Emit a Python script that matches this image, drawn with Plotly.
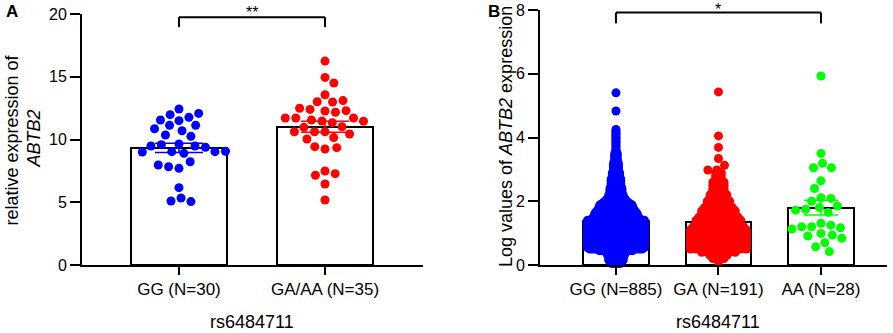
import numpy as np
import plotly.graph_objects as go

W, H = 893, 333
FONT = "Liberation Sans, Arial, sans-serif"

# ---------------- Panel A data ----------------
a_categories = ["GG (N=30)", "GA/AA (N=35)"]
a_gg = [12.43, 11.5, 11.77, 11.13, 11.55, 11.13, 11.98, 12.08, 10.7, 10.86,
        10.36, 10.25, 9.64, 9.59, 9.48, 9.38, 9.48, 9.03, 9.03, 8.9,
        9.0, 9.06, 7.7, 7.83, 8.23, 7.97, 6.16, 5.34, 5.1, 5.05]
a_gaaa = [16.25, 14.95, 14.5, 13.57, 13.01, 12.99, 13.1, 12.27, 12.4, 12.17,
          12.3, 12.49, 11.47, 11.34, 11.55, 11.02, 11.71, 11.71, 11.45, 11.71,
          10.62, 10.62, 10.97, 10.15, 10.04, 10.44, 10.62, 9.24, 9.43, 9.35,
          7.49, 7.28, 7.15, 6.45, 5.18]
a_means = [9.33, 11.02]
a_sems = [0.37, 0.44]
a_yticks = [0, 5, 10, 15, 20]

# ---------------- Panel B data ----------------
b_categories = ["GG (N=885)", "GA (N=191)", "AA (N=28)"]
b_gg_levels = [0.05, 0.10, 0.15, 0.20, 0.25, 0.30, 0.35, 0.40, 0.45, 0.50,
               0.55, 0.60, 0.65, 0.70, 0.75, 0.80, 0.85, 0.90, 0.95, 1.00,
               1.05, 1.10, 1.15, 1.20, 1.25, 1.30, 1.35, 1.40, 1.45, 1.50,
               1.55, 1.60, 1.65, 1.70, 1.75, 1.80, 1.85, 1.90, 1.95, 2.00,
               2.05, 2.10, 2.15, 2.20, 2.25, 2.30, 2.35, 2.40, 2.45, 2.50,
               2.55, 2.60, 2.65, 2.70, 2.75, 2.80, 2.85, 2.90, 2.95, 3.00,
               3.05, 3.10, 3.15, 3.20, 3.25, 3.30, 3.35, 3.40, 3.45, 3.50,
               3.55, 3.60, 3.65, 3.70, 3.75, 3.80, 3.85, 3.90, 3.95, 4.00,
               4.05, 4.10, 4.15, 4.20, 4.25]
b_gg_counts = [5, 6, 7, 7, 7, 8, 8, 9, 15, 23,
               25, 25, 25, 25, 25, 25, 25, 25, 25, 25,
               25, 25, 25, 25, 25, 25, 25, 25, 21, 20,
               19, 19, 18, 17, 16, 15, 15, 14, 12, 10,
               9, 8, 7, 7, 6, 6, 6, 6, 5, 5,
               5, 5, 5, 5, 4, 4, 4, 4, 3, 3,
               3, 3, 3, 3, 2, 2, 2, 2, 2, 2,
               1, 1, 1, 1, 1, 1, 1, 1, 1, 1,
               1, 1, 1, 1, 1]
b_gg_extra = [4.83, 5.40]
b_ga_levels = [0.1, 0.2, 0.3, 0.4, 0.5, 0.6, 0.7, 0.8, 0.9, 1.0,
               1.1, 1.2, 1.3, 1.4, 1.5, 1.6, 1.7, 1.8, 1.9, 2.0,
               2.1, 2.2, 2.3, 2.4, 2.5, 2.6, 2.7, 2.8, 2.9]
b_ga_counts = [1, 3, 4, 7, 11, 11, 11, 11, 11, 11,
               11, 10, 9, 9, 8, 7, 7, 6, 5, 5,
               4, 4, 3, 3, 3, 3, 2, 2, 2]
b_ga_extra = [5.43, 4.05, 3.69, 3.34, 3.13, 2.98, 2.98]
b_aa = [5.93, 3.50, 3.19, 3.05, 3.05, 2.64, 2.40, 2.11, 2.09, 2.00,
        1.85, 1.80, 1.75, 1.72, 1.65, 1.31, 1.25, 1.20, 1.20, 1.17,
        1.13, 0.99, 0.94, 0.91, 0.84, 0.70, 0.57, 0.42]
b_means = [1.38, 1.35, 1.80]
b_sems = [0.03, 0.05, 0.235]
b_yticks = [0, 2, 4, 6, 8]

# ---------------- layout geometry ----------------
xA_dom = [82 / W, 423 / W]
yA_dom = [68 / H, 319 / H]
xB_dom = [540 / W, 887 / W]
yB_dom = [68 / H, 323 / H]
xA_rng = [-0.664, 1.671]
yA_rng = [0, 20]
xB_rng = [-0.741, 2.644]
yB_rng = [0, 8]


def ppu(dom, rng, total):
    return (dom[1] - dom[0]) * total / (rng[1] - rng[0])


def to_paper(v, dom, rng):
    return dom[0] + (v - rng[0]) / (rng[1] - rng[0]) * (dom[1] - dom[0])


pxA, pyA = ppu(xA_dom, xA_rng, W), ppu(yA_dom, yA_rng, H)
pxB, pyB = ppu(xB_dom, xB_rng, W), ppu(yB_dom, yB_rng, H)


def swarm(vals, ppx, ppy, d):
    """Greedy beeswarm layout: offsets (data units) so that markers don't overlap."""
    placed, offs = [], []
    for v in vals:
        y = v * ppy
        cands = [0.0]
        for xo, yo in placed:
            dy = y - yo
            if abs(dy) < d:
                dx = np.sqrt(d * d - dy * dy)
                cands += [xo + dx, xo - dx]
        left = sum(1 for xo, _ in placed if xo < -0.5)
        right = sum(1 for xo, _ in placed if xo > 0.5)
        pref = 1 if right <= left else -1
        cands.sort(key=lambda c: (round(abs(c), 1), -pref * np.sign(c)))
        chosen = 0.0
        for c in cands:
            if all((c - xo) ** 2 + (y - yo) ** 2 >= d * d - 1e-6 for xo, yo in placed):
                chosen = c
                break
        placed.append((chosen, y))
        offs.append(chosen / ppx)
    return offs


def rows(levels, counts, ppx, max_span_px):
    s = max_span_px / (max(counts) - 1)
    xs, ys = [], []
    for lv, n in zip(levels, counts):
        for i in range(n):
            xs.append((i - (n - 1) / 2) * s / ppx)
            ys.append(lv)
    return xs, ys


BLUE, RED, GREEN = "#0000ff", "#ff0000", "#00ff00"
MS = 9

fig = go.Figure()

# ---- Panel A ----
fig.add_trace(go.Bar(x=[0, 1], y=a_means, width=0.66, marker=dict(color="white", line=dict(color="black", width=2)),
                     xaxis="x", yaxis="y", showlegend=False))
for i, (vals, col) in enumerate([(a_gg, BLUE), (a_gaaa, RED)]):
    offs = swarm(vals, pxA, pyA, 10.5)
    fig.add_trace(go.Scatter(x=[i + o for o in offs], y=vals, mode="markers",
                             marker=dict(size=MS, color=col, line=dict(width=0)),
                             xaxis="x", yaxis="y", showlegend=False, cliponaxis=False))
    fig.add_trace(go.Scatter(x=[i], y=[a_means[i]], mode="markers", marker=dict(size=1, opacity=0),
                             error_y=dict(type="data", array=[a_sems[i]], color=col, thickness=1.5, width=24),
                             xaxis="x", yaxis="y", showlegend=False))

# ---- Panel B ----
fig.add_trace(go.Bar(x=[0, 1, 2], y=b_means, width=0.64, marker=dict(color="white", line=dict(color="black", width=2)),
                     xaxis="x2", yaxis="y2", showlegend=False))

gx, gy = rows(b_gg_levels, b_gg_counts, pxB, 57)
gx += [0.0] * len(b_gg_extra)
gy += b_gg_extra
rx, ry = rows(b_ga_levels, b_ga_counts, pxB, 56)
eo = swarm(b_ga_extra, pxB, pyB, 9)
rx += eo
ry += b_ga_extra
ao = swarm(b_aa, pxB, pyB, 10)
groups_b = [(gx, gy, BLUE), (rx, ry, RED), (ao, b_aa, GREEN)]
for i, (xs, ys, col) in enumerate(groups_b):
    fig.add_trace(go.Scatter(x=[i + o for o in xs], y=ys, mode="markers",
                             marker=dict(size=MS, color=col, line=dict(width=0)),
                             xaxis="x2", yaxis="y2", showlegend=False, cliponaxis=False))
for i, col in enumerate([BLUE, RED, GREEN]):
    fig.add_trace(go.Scatter(x=[i], y=[b_means[i]], mode="markers", marker=dict(size=1, opacity=0),
                             error_y=dict(type="data", array=[b_sems[i]], color=col, thickness=1.5, width=17),
                             xaxis="x2", yaxis="y2", showlegend=False))

axis_common = dict(showline=True, linecolor="black", linewidth=2, ticks="outside", tickcolor="black",
                   tickwidth=2, showgrid=False, zeroline=False, fixedrange=True, automargin=False)
fig.update_layout(
    template="none",
    width=W, height=H, margin=dict(l=0, r=0, t=0, b=0, pad=0, autoexpand=False),
    paper_bgcolor="white", plot_bgcolor="white",
    font=dict(family=FONT, color="black"),
    bargap=0, showlegend=False,
    xaxis=dict(domain=xA_dom, range=xA_rng, tickvals=[0, 1], ticktext=a_categories, ticklen=8,
               tickfont=dict(size=17), anchor="y", **axis_common),
    yaxis=dict(domain=yA_dom, range=yA_rng, tickvals=a_yticks, ticklen=10, tickfont=dict(size=16),
               anchor="x", **axis_common),
    xaxis2=dict(domain=xB_dom, range=xB_rng, tickvals=[0, 1, 2], ticktext=b_categories, ticklen=8,
                tickfont=dict(size=17), anchor="y2", **axis_common),
    yaxis2=dict(domain=yB_dom, range=yB_rng, tickvals=b_yticks, ticklen=10, tickfont=dict(size=16),
                anchor="x2", **axis_common),
)

# brackets
def bracket(x0, x1, ytop, ybot, xdom, xrng, ydom, yrng):
    px0, px1 = to_paper(x0, xdom, xrng), to_paper(x1, xdom, xrng)
    pt, pb = to_paper(ytop, ydom, yrng), to_paper(ybot, ydom, yrng)
    for (a, b, c, d) in [(px0, pb, px0, pt), (px0, pt, px1, pt), (px1, pt, px1, pb)]:
        fig.add_shape(type="line", xref="paper", yref="paper", x0=a, y0=b, x1=c, y1=d,
                      line=dict(color="black", width=2))
    return (px0 + px1) / 2, pt

mA, tA = bracket(0, 1, 19.75, 18.95, xA_dom, xA_rng, yA_dom, yA_rng)
mB, tB = bracket(0, 2, 7.92, 7.58, xB_dom, xB_rng, yB_dom, yB_rng)

base = dict(xref="paper", yref="paper", showarrow=False, borderpad=0)
ann = []
ann.append(dict(text="**", x=mA, y=1 - 3 / H, xanchor="center", yanchor="top", font=dict(size=16), **base))
ann.append(dict(text="*", x=mB, y=1.0, xanchor="center", yanchor="top", font=dict(size=16), **base))
ann.append(dict(text="relative expression of", textangle=-90, x=11.5 / W, y=1 - 140 / H,
                xanchor="center", yanchor="middle", font=dict(size=18), **base))
ann.append(dict(text="<i>ABTB2</i>", textangle=-90, x=33.5 / W, y=1 - 139 / H,
                xanchor="center", yanchor="middle", font=dict(size=18), **base))
ann.append(dict(text="Log values of <i>ABTB2</i> expression", textangle=-90, x=506 / W, y=1 - 137 / H,
                xanchor="center", yanchor="middle", font=dict(size=18), **base))
ann.append(dict(text="rs6484711", x=252 / W, y=0, xanchor="center", yanchor="bottom",
                font=dict(size=18), **base))
ann.append(dict(text="rs6484711", x=718 / W, y=0, xanchor="center", yanchor="bottom",
                font=dict(size=18), **base))
ann.append(dict(text="<b>A</b>", x=12 / W, y=1 - 11 / H, xanchor="center", yanchor="middle",
                font=dict(size=17), **base))
ann.append(dict(text="<b>B</b>", x=494 / W, y=1 - 11 / H, xanchor="center", yanchor="middle",
                font=dict(size=17), **base))
fig.update_layout(annotations=ann)

fig.write_html("out.html", config={"displayModeBar": False},
               post_script="document.body.style.margin='0';")
